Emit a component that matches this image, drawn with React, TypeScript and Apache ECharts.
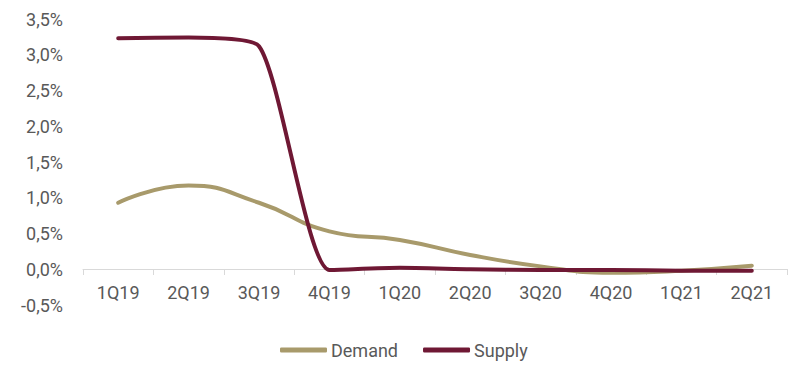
import React, { useEffect, useRef } from "react";
import * as echarts from "echarts";

const categories = ["1Q19", "2Q19", "3Q19", "4Q19", "1Q20", "2Q20", "3Q20", "4Q20", "1Q21", "2Q21"];
const demand = [0.93, 1.17, 0.93, 0.53, 0.41, 0.2, 0.04, -0.05, -0.02, 0.05];
const supply = [3.23, 3.24, 3.12, -0.01, 0.02, 0.0, -0.01, -0.01, -0.02, -0.02];
const yTicks = { min: -0.5, max: 3.5, interval: 0.5 };

const DEMAND_COLOR = "#A89A6B";
const SUPPLY_COLOR = "#6F1834";
const FONT = "Roboto";
const TEXT_COLOR = "#595959";

export default function App() {
  const ref = useRef<HTMLDivElement>(null);
  useEffect(() => {
    if (!ref.current) return;
    const chart = echarts.init(ref.current, undefined, { renderer: "svg" });
    chart.setOption({
      animation: false,
      backgroundColor: "#ffffff",
      grid: { left: 83, right: 13, top: 19, bottom: 67 },
      legend: {
        top: 341,
        left: 280,
        padding: 0,
        itemWidth: 47,
        itemHeight: 5,
        itemGap: 25,
        icon: "roundRect",
        textStyle: { fontFamily: FONT, fontSize: 18, color: TEXT_COLOR, padding: [0, 0, 0, -1] },
        data: ["Demand", "Supply"],
      },
      xAxis: {
        type: "category",
        data: categories,
        boundaryGap: true,
        offset: -36,
        axisLine: { show: true, onZero: false, lineStyle: { color: "#d9d9d9", width: 1 } },
        axisTick: { show: true, length: 6, lineStyle: { color: "#d9d9d9" } },
        axisLabel: { fontFamily: FONT, fontSize: 18, color: TEXT_COLOR, margin: 14 },
        splitLine: { show: false },
      },
      yAxis: {
        type: "value",
        min: yTicks.min,
        max: yTicks.max,
        interval: yTicks.interval,
        axisLine: { show: false },
        axisTick: { show: false },
        splitLine: { show: false },
        axisLabel: {
          fontFamily: FONT,
          fontSize: 18,
          color: TEXT_COLOR,
          margin: 20,
          formatter: (v: number) => v.toFixed(1).replace(".", ",") + "%",
        },
      },
      series: [
        {
          name: "Demand",
          type: "line",
          data: demand,
          smooth: 0.5,
          showSymbol: false,
          symbol: "none",
          lineStyle: { color: DEMAND_COLOR, width: 4, cap: "round" },
          itemStyle: { color: DEMAND_COLOR },
          z: 2,
        },
        {
          name: "Supply",
          type: "line",
          data: supply,
          smooth: 0.2,
          showSymbol: false,
          symbol: "none",
          lineStyle: { color: SUPPLY_COLOR, width: 4, cap: "round", join: "round" },
          itemStyle: { color: SUPPLY_COLOR },
          z: 3,
        },
      ],
    });
    return () => chart.dispose();
  }, []);
  return <div ref={ref} style={{ width: 800, height: 372, position: "absolute", left: 0, top: 0 }} />;
}
